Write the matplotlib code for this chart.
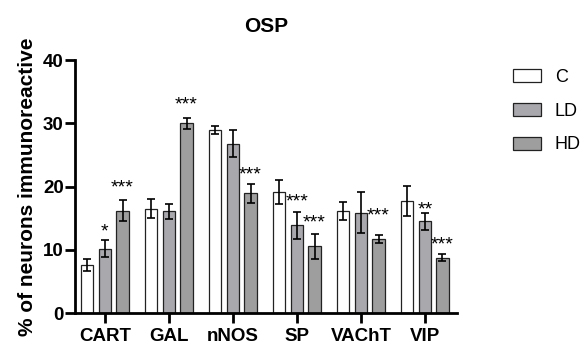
import numpy as np
import matplotlib.pyplot as plt

plt.rcParams['font.family'] = ['Liberation Sans', 'DejaVu Sans']

# data
markers = ['CART', 'GAL', 'nNOS', 'SP', 'VAChT', 'VIP']
groups = ['C', 'LD', 'HD']
c_mean = [7.6, 16.5, 29.0, 19.1, 16.2, 17.7]
c_err = [0.9, 1.5, 0.6, 1.9, 1.4, 2.4]
ld_mean = [10.2, 16.1, 26.8, 13.9, 15.9, 14.5]
ld_err = [1.3, 1.2, 2.1, 2.1, 3.2, 1.3]
hd_mean = [16.2, 30.0, 19.0, 10.6, 11.7, 8.8]
hd_err = [1.7, 0.9, 1.5, 2.0, 0.6, 0.6]

# significance marks (group, marker index, label, height)
stars = [('LD', 0, '*', 12.9), ('HD', 0, '***', 19.8),
         ('HD', 1, '***', 32.9), ('HD', 2, '***', 21.9),
         ('LD', 3, '***', 17.6), ('HD', 3, '***', 14.3),
         ('HD', 4, '***', 15.3), ('LD', 5, '**', 16.3),
         ('HD', 5, '***', 10.8)]

colors = {'C': 'white', 'LD': '#a8a8ad', 'HD': '#9e9e9e'}
means = {'C': c_mean, 'LD': ld_mean, 'HD': hd_mean}
errs = {'C': c_err, 'LD': ld_err, 'HD': hd_err}
offsets = {'C': -0.275, 'LD': 0.0, 'HD': 0.275}

fig = plt.figure(figsize=(5.85, 3.48), dpi=100)
ax = fig.add_axes([0.128, 0.100, 0.653, 0.727])

x = np.arange(len(markers))
w = 0.19
for g in groups:
    ax.bar(x + offsets[g], means[g], w, color=colors[g], edgecolor='#222222',
           linewidth=0.9, label=g, zorder=2)
    ax.errorbar(x + offsets[g], means[g], yerr=errs[g], fmt='none',
                ecolor='black', elinewidth=1.2, capsize=3, capthick=1.2, zorder=3)

for g, i, lab, h in stars:
    ax.text(i + offsets[g], h, lab, ha='center', va='center', fontsize=14)

ax.set_xlim(-0.47, 5.5)
ax.set_ylim(0, 40)
ax.set_yticks([0, 10, 20, 30, 40])
ax.set_xticks(x)
ax.set_xticklabels(markers, fontweight='bold', fontsize=13.5)
for t in ax.get_yticklabels():
    t.set_fontweight('bold')
    t.set_fontsize(13.5)
ax.tick_params(axis='both', width=2, length=7)
ax.tick_params(axis='y', pad=1)
ax.tick_params(axis='x', pad=4)
ax.spines['top'].set_visible(False)
ax.spines['right'].set_visible(False)
ax.spines['left'].set_linewidth(2)
ax.spines['bottom'].set_linewidth(2)
ax.spines['left'].set_bounds(0, 40)

ax.set_ylabel('% of neurons immunoreactive', fontweight='bold', fontsize=15,
              labelpad=4)
ax.set_title('OSP', fontweight='bold', fontsize=15, pad=20)

ax.legend(loc='upper left', bbox_to_anchor=(1.124, 1.0), frameon=False,
          fontsize=13, handlelength=1.55, handleheight=0.72,
          handletextpad=0.75, labelspacing=0.92, borderpad=0)

fig.savefig('out.png', dpi=100)
